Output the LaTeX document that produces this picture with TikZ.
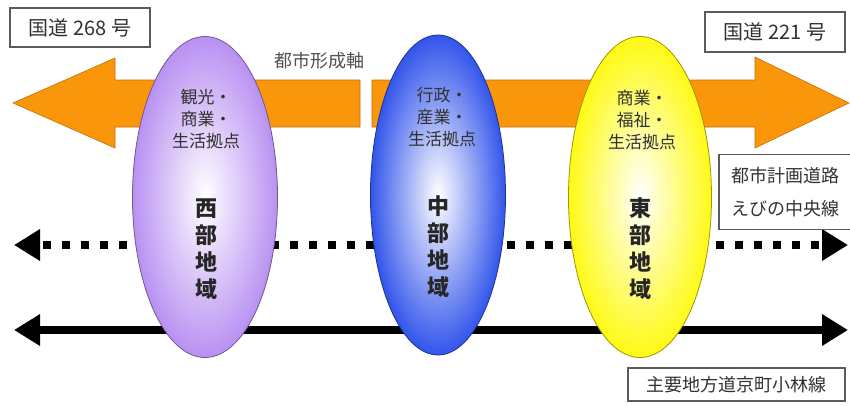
\documentclass[tikz,border=0pt]{standalone}
\usepackage{fontspec}
\setmainfont{Noto Sans CJK JP}
\usetikzlibrary{arrows.meta,shapes.geometric}
\definecolor{orng}{RGB}{250,150,10}
\definecolor{orngdk}{RGB}{200,110,10}
\definecolor{purp}{RGB}{185,145,242}
\definecolor{blu}{RGB}{50,85,235}
\definecolor{yel}{RGB}{255,250,20}
\definecolor{txt}{RGB}{50,50,50}
\tikzset{
  labelbox/.style={draw=txt!80,line width=1.5pt,fill=white,text=txt,font=\fontsize{20}{22}\selectfont,inner sep=0pt,align=center},
  region/.style={ellipse,draw=#1!60!black,line width=0.8pt,inner sep=0pt,inner color=white,outer color=#1},
  smalltxt/.style={text=txt,font=\fontsize{17}{22}\selectfont,align=center},
  bigtxt/.style={text=black!85,font=\bfseries\fontsize{22}{27}\selectfont,align=center},
  bigarrow/.style={fill=orng,draw=orngdk,line width=0.6pt},
  road/.style={line width=8pt,-{Triangle[length=26pt,width=30pt]}},
  plannedroad/.style={road,dash pattern=on 8pt off 11pt}
}
\begin{document}
\begin{tikzpicture}[x=1pt,y=-1pt]
\useasboundingbox[fill=white] (0,0) rectangle (850,405);
% orange axis arrows
\draw[bigarrow] (13,103) -- (115,58) -- (115,80) -- (360,80) -- (360,127) -- (115,127) -- (115,148) -- cycle;
\draw[bigarrow] (372,80) -- (755,80) -- (755,57) -- (849,103) -- (755,148) -- (755,127) -- (372,127) -- cycle;
\node[text=txt!85,font=\fontsize{18}{20}\selectfont] (axis) at (319,61) {都市形成軸};
% roads
\coordinate (dl) at (14,245);
\coordinate (dr) at (848,245);
\coordinate (sl) at (14,330);
\coordinate (sr) at (848,330);
\coordinate (dm) at (431,245);
\coordinate (sm) at (431,330);
\draw[plannedroad] (dm) -- (dl);
\draw[plannedroad] (dm) -- (dr);
\draw[road] (sm) -- (sl);
\draw[road] (sm) -- (sr);
% regions
\node[region=purp,minimum width=145pt,minimum height=321pt] (west) at (205,197) {};
\node[region=blu,minimum width=135pt,minimum height=320pt] (mid) at (438,195) {};
\node[region=yel,minimum width=143pt,minimum height=321pt] (east) at (640,197) {};
\node[smalltxt] (wt) at (206,119) {観光・\\商業・\\生活拠点};
\node[smalltxt] (mt) at (442,117) {行政・\\産業・\\生活拠点};
\node[smalltxt] (et) at (642,120) {商業・\\福祉・\\生活拠点};
\node[bigtxt] (wn) at (206,249) {西\\部\\地\\域};
\node[bigtxt] (mn) at (438,247) {中\\部\\地\\域};
\node[bigtxt] (en) at (640,249) {東\\部\\地\\域};
% label boxes
\node[labelbox,minimum width=140pt,minimum height=39pt] (r268) at (80,27.5) {国道 268 号};
\node[labelbox,minimum width=140pt,minimum height=40pt] (r221) at (775,32) {国道 221 号};
\node[labelbox,minimum width=132pt,minimum height=75pt,font=\fontsize{18}{33}\selectfont] (ebino) at (785,192) {都市計画道路\\えびの中央線};
\node[labelbox,minimum width=217pt,minimum height=33pt,font=\fontsize{18}{20}\selectfont] (kyo) at (736.5,384.5) {主要地方道京町小林線};
\end{tikzpicture}
\end{document}
